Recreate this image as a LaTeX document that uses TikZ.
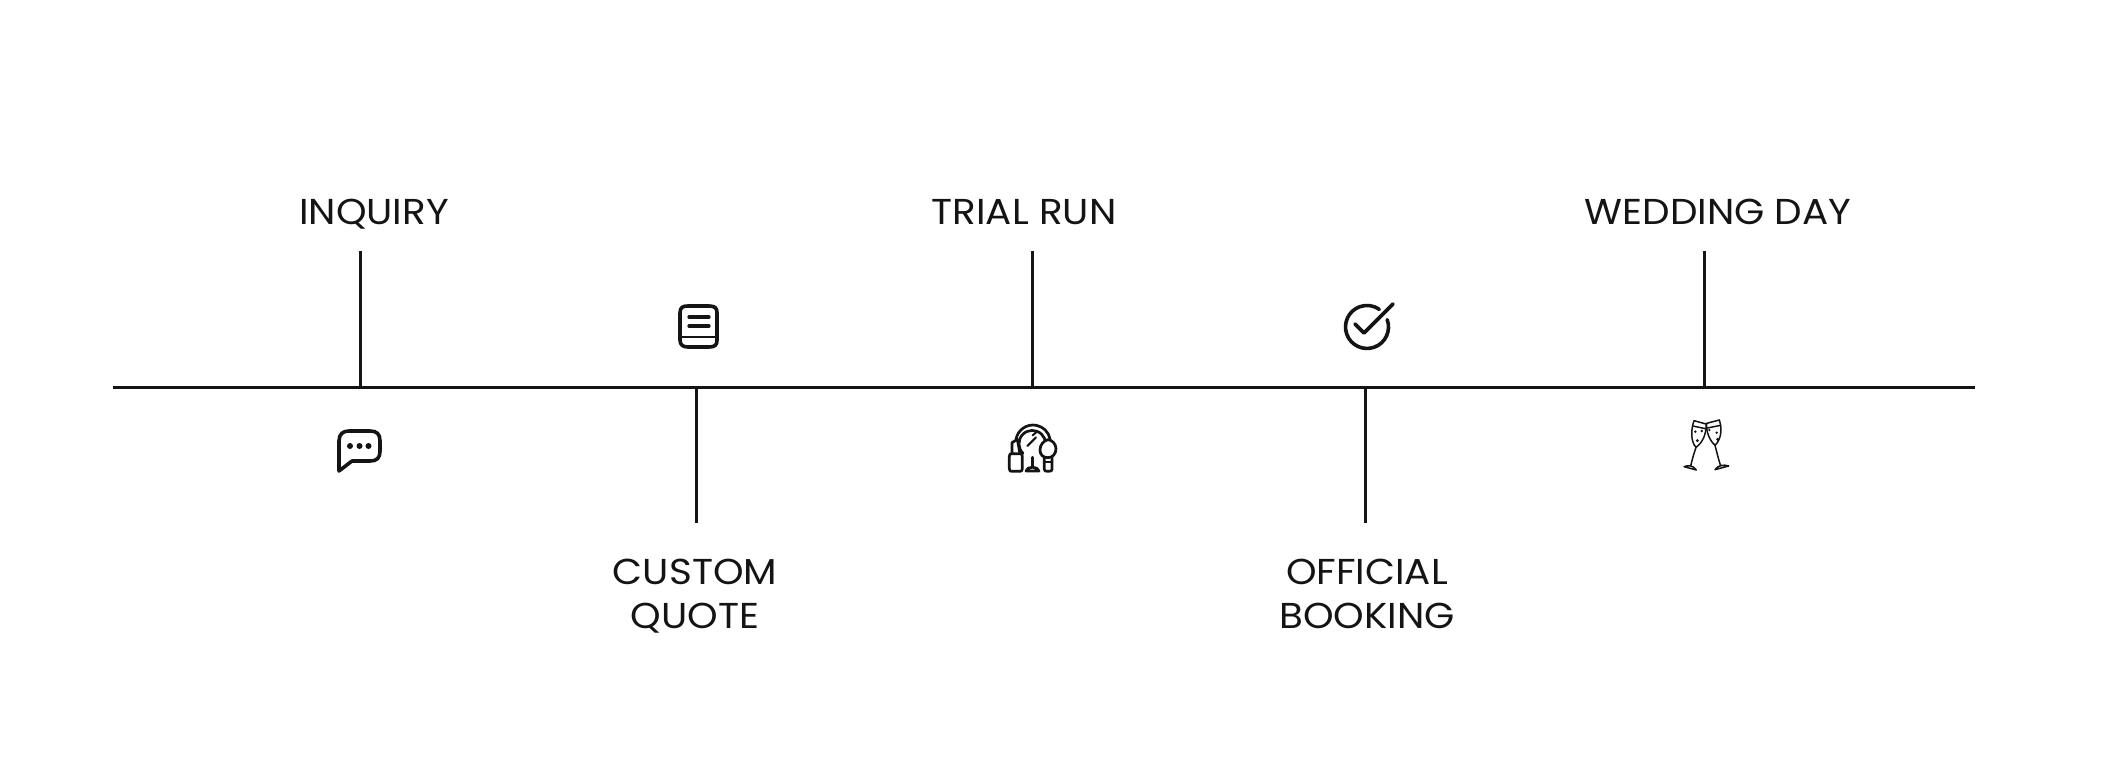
\documentclass[tikz,border=0pt]{standalone}
\usepackage{fontspec}
\setmainfont[FakeStretch=1.08]{Poppins}
\usetikzlibrary{positioning}
\definecolor{inkblack}{HTML}{141414}
\tikzset{
    steplabel/.style={text=inkblack, align=center, inner sep=0pt, font=\fontsize{36}{43.5}\selectfont},
    stemline/.style={draw=inkblack, line width=3pt},
    iconline/.style={draw=inkblack, line width=3.6pt, line cap=round, line join=round},
    makeupline/.style={draw=inkblack, line width=2.7pt, line cap=round, line join=round},
    thinicon/.style={draw=inkblack, line width=1.5pt, line cap=round, line join=round}
}

\begin{document}
\begin{tikzpicture}[x=1pt, y=-1pt]
    \useasboundingbox (0, 0) rectangle (2103, 771);

    % timeline
    \coordinate (start) at (113, 387);
    \coordinate (finish) at (1975, 387);
    \draw[stemline] (start) -- (finish);

    % labels
    \node[steplabel, anchor=base] (inquiry) at (374, 224) {INQUIRY};
    \node[steplabel, anchor=base] (trial) at (1024, 224) {TRIAL RUN};
    \node[steplabel, anchor=base] (wedding) at (1718, 224) {WEDDING DAY};
    \node[steplabel, anchor=base] (quote) at (695, 628) {CUSTOM\\QUOTE};
    \node[steplabel, anchor=base] (booking) at (1367, 628) {OFFICIAL\\BOOKING};

    % stems
    \coordinate (inquirytop) at (360.5, 251);
    \coordinate (inquirybase) at (360.5, 387);
    \coordinate (trialtop) at (1032.5, 251);
    \coordinate (trialbase) at (1032.5, 387);
    \coordinate (weddingtop) at (1704.5, 251);
    \coordinate (weddingbase) at (1704.5, 387);
    \coordinate (quotebase) at (696.5, 387);
    \coordinate (quoteend) at (696.5, 523);
    \coordinate (bookingbase) at (1365.5, 387);
    \coordinate (bookingend) at (1365.5, 523);
    \draw[stemline] (inquirytop) -- (inquirybase);
    \draw[stemline] (trialtop) -- (trialbase);
    \draw[stemline] (weddingtop) -- (weddingbase);
    \draw[stemline] (quotebase) -- (quoteend);
    \draw[stemline] (bookingbase) -- (bookingend);

    % chat icon
    \draw[iconline] (339, 471) -- (339, 441) .. controls (339, 434) and (343, 431) .. (349, 431)
        -- (370, 431) .. controls (377, 431) and (380, 434) .. (380, 441)
        -- (380, 451) .. controls (380, 458) and (377, 461) .. (370, 461)
        -- (352, 461) -- cycle;
    \fill[inkblack] (350, 446) circle (3) (359.5, 446) circle (3) (368.5, 446) circle (3);

    % book icon
    \draw[iconline] (680, 313) .. controls (680, 307) and (683, 306) .. (688, 306)
        -- (709, 306) .. controls (715, 306) and (717, 308) .. (717, 313)
        -- (717, 340) .. controls (717, 345) and (715, 347) .. (709, 347)
        -- (688, 347) .. controls (683, 347) and (680, 345) .. (680, 340) -- cycle;
    \draw[iconline, line width=2.6pt] (681, 337) -- (716, 337);
    \draw[iconline, line width=3.2pt] (689, 317) -- (709, 317);
    \draw[iconline, line width=3.2pt] (689, 326) -- (709, 326);

    % makeup icon
    \begin{scope}[shift={(990, 410)}, x=0.3333pt, y=-0.3333pt]
        \draw[makeupline] (78, 88) arc (190:348:52);
        \draw[makeupline] (99, 130) arc (134:400:40);
        \draw[makeupline, line width=2pt] (112, 108) -- (138, 82);
        \draw[makeupline, line width=2pt] (128, 76) -- (142, 64);
        \draw[makeupline] (127, 142) -- (127, 168);
        \draw[makeupline] (108, 183) .. controls (110, 168) and (144, 168) .. (147, 183) -- cycle;
        % lipstick
        \draw[makeupline, fill=white] (66, 132) -- (66, 98) -- (82, 88) -- (90, 132);
        \draw[makeupline, fill=white] (58, 140) .. controls (58, 133) and (60, 131) .. (65, 131)
            -- (90, 131) .. controls (95, 131) and (97, 133) .. (97, 140)
            -- (97, 175) .. controls (97, 182) and (95, 184) .. (90, 184)
            -- (65, 184) .. controls (60, 184) and (58, 182) .. (58, 175) -- cycle;
        % brush
        \draw[makeupline, fill=white] (163, 142) -- (163, 178) .. controls (163, 183) and (166, 184) .. (174, 184)
            .. controls (183, 184) and (186, 183) .. (186, 178) -- (186, 142);
        \draw[makeupline, fill=white] (174, 89) .. controls (160, 92) and (150, 105) .. (150, 120)
            .. controls (150, 135) and (160, 143) .. (174, 143)
            .. controls (187, 143) and (198, 132) .. (198, 116)
            .. controls (198, 103) and (187, 90) .. (174, 89) -- cycle;
        \draw[makeupline, line width=2pt] (163, 155) -- (186, 155);
    \end{scope}

    % check icon
    \draw[iconline] (1387.2, 319.6) arc (-20:305:21.5);
    \draw[iconline] (1355, 324) -- (1364, 333) -- (1393, 304);

    % glasses icon
    \begin{scope}[shift={(1670, 410)}, x=0.3333pt, y=-0.3333pt]
        \draw[thinicon] (72, 32) -- (108, 42) .. controls (110, 75) and (95, 100) .. (78, 112)
            .. controls (62, 95) and (62, 60) .. (72, 32) -- cycle;
        \draw[thinicon] (69, 48) -- (106, 56);
        \draw[thinicon] (78, 112) .. controls (72, 130) and (66, 150) .. (62, 168);
        \draw[thinicon] (42, 170) .. controls (55, 165) and (68, 165) .. (79, 180) -- cycle;
        \draw[thinicon] (148, 30) -- (110, 40) .. controls (108, 65) and (118, 90) .. (135, 106)
            .. controls (140, 125) and (146, 150) .. (152, 168);
        \draw[thinicon] (135, 106) .. controls (152, 90) and (158, 60) .. (148, 30);
        \draw[thinicon] (112, 54) -- (152, 46);
        \draw[thinicon] (135, 179) .. controls (145, 165) and (160, 163) .. (176, 168) -- cycle;
        \fill[inkblack] (76, 65) circle (4) (95, 63) circle (4) (82, 92) circle (5)
            (118, 60) circle (4) (140, 68) circle (4) (143, 88) circle (5);
    \end{scope}
\end{tikzpicture}
\end{document}
